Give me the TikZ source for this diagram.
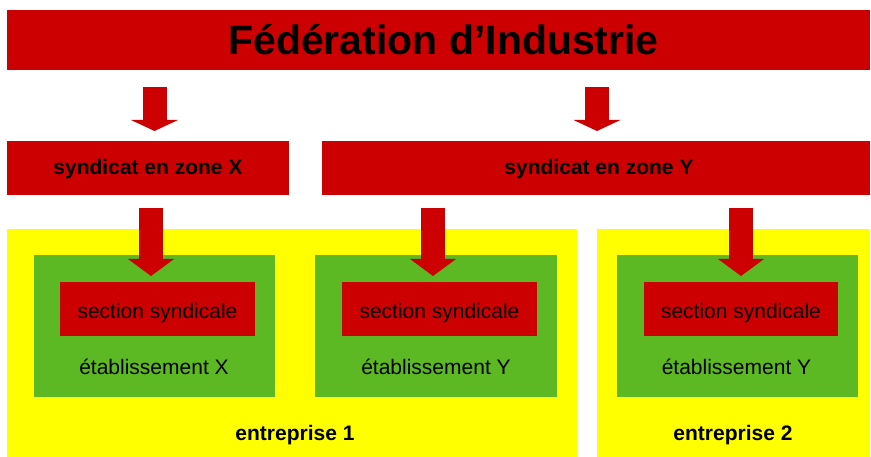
\documentclass[tikz,border=0pt]{standalone}
\usepackage{fontspec}
\setmainfont{Liberation Sans}
\usetikzlibrary{arrows.meta}
\definecolor{fedred}{RGB}{204,0,0}
\definecolor{sitegreen}{RGB}{92,185,35}
\definecolor{firmyellow}{RGB}{255,255,0}
\begin{document}
\begin{tikzpicture}[x=1pt,y=-1pt,
  box/.style={rectangle, inner sep=0pt, outer sep=0pt, draw=none},
  redbox/.style={box, fill=fedred},
  greenbox/.style={box, fill=sitegreen, minimum width=241pt, minimum height=142pt},
  yellowbox/.style={box, fill=firmyellow, minimum height=228pt},
  sectionbox/.style={redbox, minimum width=195pt, minimum height=54pt},
  lbl/.style={anchor=base, inner sep=0pt, font=\fontsize{21}{25}\selectfont},
  boldlbl/.style={lbl, font=\fontsize{21}{25}\selectfont\bfseries},
  toparrow/.style={draw=fedred, line width=24pt,
    -{Triangle[width=47pt,length=11pt,line width=0pt]},
    shorten <=17pt, shorten >=10pt},
  lowarrow/.style={draw=fedred, line width=24pt,
    -{Triangle[width=46pt,length=17pt,line width=0pt]},
    shorten <=13pt, shorten >=6pt},
]
% canvas
\fill[white] (0,0) rectangle (871,457);
\useasboundingbox (0,0) rectangle (871,457);

% federation and unions
\node[redbox, minimum width=863pt, minimum height=60pt] (fed) at (438.5,40) {};
\node[redbox, minimum width=282pt, minimum height=54pt] (synX) at (148,168) {};
\node[redbox, minimum width=548pt, minimum height=54pt] (synY) at (596,168) {};

% companies
\node[yellowbox, minimum width=570pt] (ent1) at (292,343) {};
\node[yellowbox, minimum width=273pt] (ent2) at (733.5,343) {};

% establishments
\node[greenbox] (etab1) at (154.5,326) {};
\node[greenbox, minimum width=242pt] (etab2) at (436,326) {};
\node[greenbox] (etab3) at (737.5,326) {};

% union sections
\node[sectionbox] (sec1) at (157.5,309) {};
\node[sectionbox] (sec2) at (439.5,309) {};
\node[sectionbox, minimum width=194pt] (sec3) at (741,309) {};

% arrow columns
\coordinate (colA) at (154.5,0);
\coordinate (colB) at (597,0);
\coordinate (colC) at (151,0);
\coordinate (colD) at (433,0);
\coordinate (colE) at (741,0);

% arrows
\draw[toparrow] (fed.south -| colA) -- (synX.north -| colA);
\draw[toparrow] (fed.south -| colB) -- (synY.north -| colB);
\draw[lowarrow] (synX.south -| colC) -- (sec1.north -| colC);
\draw[lowarrow] (synY.south -| colD) -- (sec2.north -| colD);
\draw[lowarrow] (synY.south -| colE) -- (sec3.north -| colE);

% texts
\node[anchor=base, inner sep=0pt, font=\fontsize{41}{48}\selectfont\bfseries] (tfed) at (443.5,55) {Fédération d’Industrie};
\node[boldlbl] (tsynX) at (148,175) {syndicat en zone X};
\node[boldlbl] (tsynY) at (599,175) {syndicat en zone Y};
\node[lbl] (tsec1) at (157.5,319) {section syndicale};
\node[lbl] (tsec2) at (439.5,319) {section syndicale};
\node[lbl] (tsec3) at (741,319) {section syndicale};
\node[lbl] (tetab1) at (154,374) {établissement X};
\node[lbl] (tetab2) at (436,374) {établissement Y};
\node[lbl] (tetab3) at (736.5,374) {établissement Y};
\node[boldlbl] (tent1) at (295,440) {entreprise 1};
\node[boldlbl] (tent2) at (733,440) {entreprise 2};
\end{tikzpicture}
\end{document}
